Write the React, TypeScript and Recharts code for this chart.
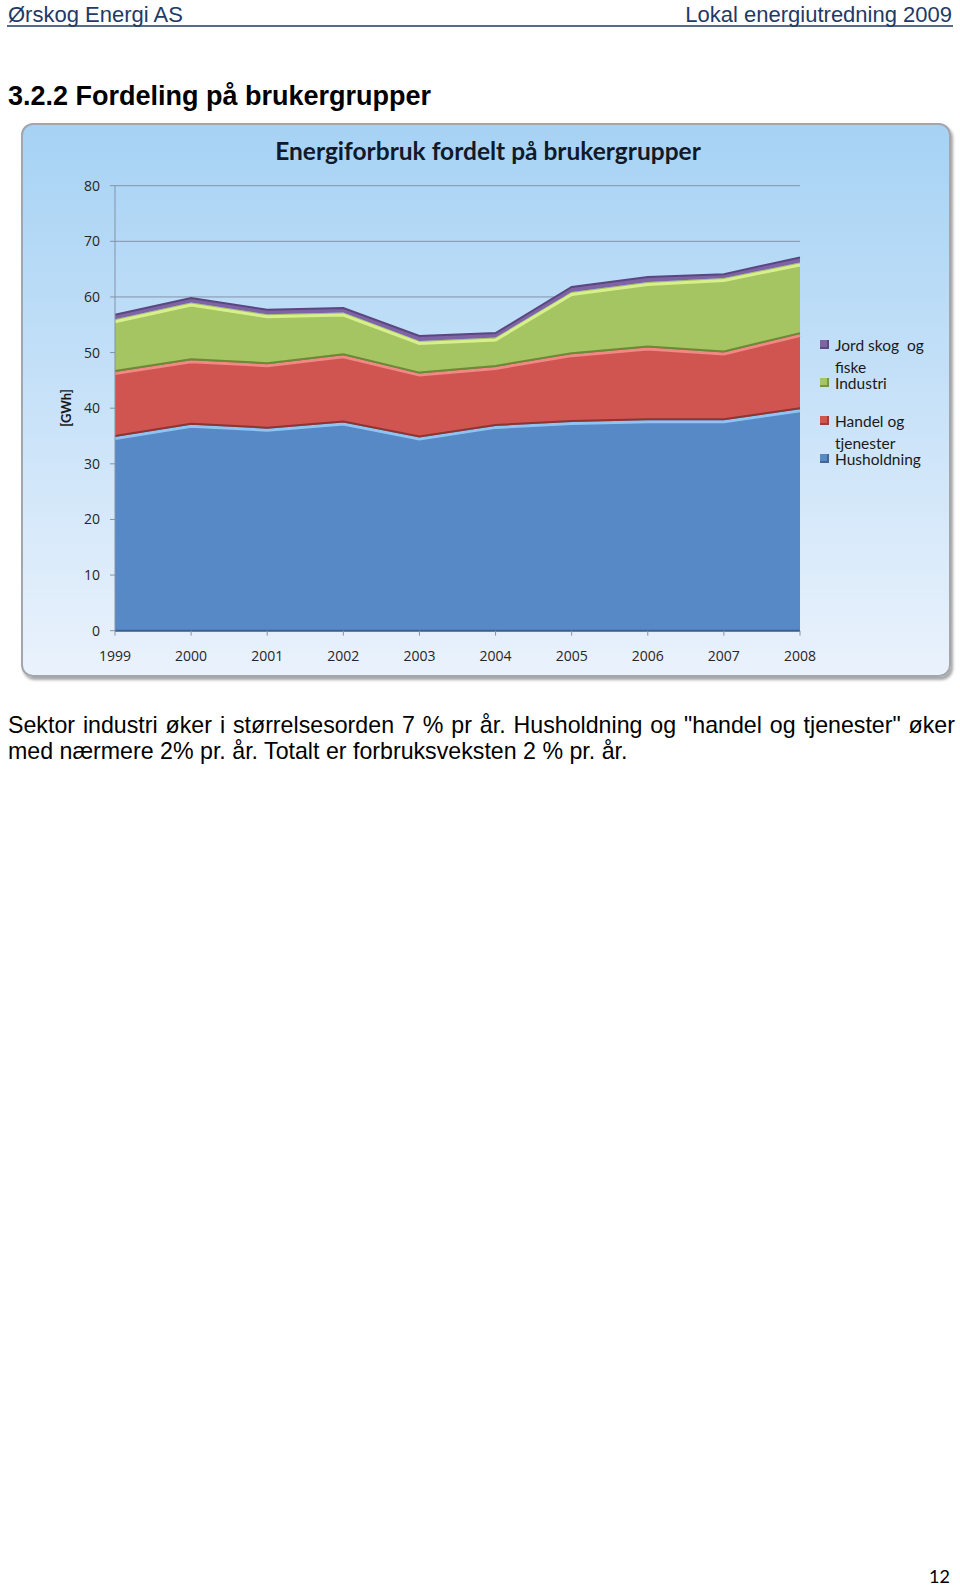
import React from "react";
import { ComposedChart, Area, Line, XAxis, YAxis, CartesianGrid, Legend } from "recharts";

const years = ["1999", "2000", "2001", "2002", "2003", "2004", "2005", "2006", "2007", "2008"];
const husholdning = [35.0, 37.2, 36.5, 37.6, 34.9, 37.0, 37.7, 38.0, 38.0, 40.0];
const handelOgTjenester = [11.7, 11.6, 11.6, 12.1, 11.5, 10.6, 12.2, 13.1, 12.2, 13.5];
const industri = [9.3, 10.2, 8.8, 7.5, 5.7, 5.1, 11.0, 11.6, 13.2, 12.7];
const jordSkogFiske = [0.8, 0.8, 0.8, 0.8, 0.9, 0.8, 0.9, 0.9, 0.7, 0.9];
const yTicks = [0, 10, 20, 30, 40, 50, 60, 70, 80];

// stacked layers, bottom first
const layers = [
  { key: "husholdning", name: "Husholdning", fill: "#5889c7", edge: "#8c3532", light: "#8fc4f2" },
  { key: "handel", name: "Handel og tjenester", fill: "#d05450", edge: "#6b8a36", light: "#f08884" },
  { key: "industri", name: "Industri", fill: "#a5c462", edge: "none", light: "#d8f08c" },
  { key: "jord", name: "Jord skog  og fiske", fill: "#7e64a4", edge: "#5a4680", light: "none" },
];

const table = years.map((year, i) => {
  const t1 = husholdning[i];
  const t2 = t1 + handelOgTjenester[i];
  const t3 = t2 + industri[i];
  const t4 = t3 + jordSkogFiske[i];
  return {
    year,
    husholdning: husholdning[i],
    handel: handelOgTjenester[i],
    industri: industri[i],
    jord: jordSkogFiske[i],
    t1, t2, t3, t4,
  };
});

const tickFont = { fontFamily: "'Open Sans', sans-serif", fontSize: 14, fill: "#262626" };

function LegendBox() {
  const items = [...layers].reverse();
  return (
    <div style={{ fontFamily: "Lato, sans-serif", fontSize: 15.5, color: "#1a1a1a" }}>
      {items.map((it) => (
        <div key={it.key} style={{ position: "relative", height: 38, lineHeight: "22px" }}>
          <span
            style={{
              position: "absolute", left: 0, top: 6, width: 9, height: 9,
              background: it.fill, boxShadow: "inset -2px -2px 0 rgba(0,0,0,0.25)",
            }}
          />
          <div style={{ position: "absolute", left: 15, top: 0, width: 95, whiteSpace: "pre-wrap" }}>
            {it.name}
          </div>
        </div>
      ))}
    </div>
  );
}

export default function App() {
  return (
    <div style={{ position: "absolute", left: 0, top: 0, width: 960, height: 1588, background: "#fff", overflow: "hidden" }}>
      <style>{`.hl-line { transform: translateY(2.5px); }`}</style>
      <svg width={960} height={120} style={{ position: "absolute", left: 0, top: 0 }}>
        <text x={8} y={21.5} fontFamily="'Liberation Sans', Arial, sans-serif" fontSize={22} fill="#1f3a66">
          Ørskog Energi AS
        </text>
        <text x={952} y={21.5} textAnchor="end" fontFamily="'Liberation Sans', Arial, sans-serif" fontSize={22} fill="#1f3a66">
          Lokal energiutredning 2009
        </text>
        <line x1={7} x2={953} y1={26} y2={26} stroke="#1f3a66" strokeWidth={1.5} />
        <text x={8} y={105} fontFamily="'Liberation Sans', Arial, sans-serif" fontWeight="bold" fontSize={27} fill="#000">
          3.2.2 Fordeling på brukergrupper
        </text>
      </svg>

      <div
        style={{
          position: "absolute", left: 21, top: 123, width: 930, height: 554, boxSizing: "border-box",
          borderRadius: 12, border: "2px solid #a3a6aa",
          background: "linear-gradient(180deg, #a6d2f4 0%, #c4e0f8 45%, #eaf2fc 100%)",
          boxShadow: "2px 3px 3px rgba(0,0,0,0.35)",
        }}
      />
      <div style={{ position: "absolute", left: 21, top: 123, width: 930, height: 554 }}>
        <ComposedChart width={930} height={554} data={table} margin={{ top: 62.7, right: 151, bottom: 16.3, left: 54 }}>
          <CartesianGrid vertical={false} stroke="#8493a8" strokeWidth={1} />
          <XAxis
            dataKey="year"
            scale="point"
            padding={{ left: 0, right: 0 }}
            height={30}
            tickSize={5}
            tickMargin={15}
            tick={tickFont}
            axisLine={{ stroke: "#3d5f8e", strokeWidth: 2 }}
            tickLine={{ stroke: "#8493a8" }}
          />
          <YAxis
            domain={[0, 80]}
            ticks={yTicks}
            width={40}
            tickSize={5}
            tickMargin={10}
            tick={tickFont}
            axisLine={{ stroke: "#8493a8" }}
            tickLine={{ stroke: "#8493a8" }}
          />
          {layers.map((l) => (
            <Area
              key={l.key}
              type="linear"
              dataKey={l.key}
              name={l.name}
              stackId="s"
              fill={l.fill}
              fillOpacity={1}
              stroke="none"
              isAnimationActive={false}
            />
          ))}
          {layers.map((l, i) =>
            l.light === "none" ? null : (
              <Line
                key={"hl" + l.key}
                className="hl-line"
                type="linear"
                dataKey={"t" + (i + 1)}
                stroke={l.light}
                strokeWidth={3}
                dot={false}
                activeDot={false}
                legendType="none"
                isAnimationActive={false}
              />
            )
          )}
          {layers.map((l, i) =>
            l.edge === "none" ? null : (
              <Line
                key={"edge" + l.key}
                type="linear"
                dataKey={"t" + (i + 1)}
                stroke={l.edge}
                strokeWidth={2}
                dot={false}
                activeDot={false}
                legendType="none"
                isAnimationActive={false}
              />
            )
          )}
          <Legend
            layout="vertical"
            align="center"
            verticalAlign="middle"
            content={() => <LegendBox />}
            wrapperStyle={{ position: "absolute", left: 799, top: 211, width: 130, height: 152 }}
          />
        </ComposedChart>
      </div>
      <svg width={960} height={700} style={{ position: "absolute", left: 0, top: 0, pointerEvents: "none" }}>
        <text x={488} y={160} textAnchor="middle" fontFamily="Lato, sans-serif" fontWeight="bold" fontSize={24.5} fill="#111a2a">
          Energiforbruk fordelt på brukergrupper
        </text>
        <text
          x={0}
          y={0}
          transform="translate(71,408) rotate(-90)"
          textAnchor="middle"
          fontFamily="Lato, sans-serif"
          fontWeight="bold"
          fontSize={13}
          fill="#1a1a1a"
        >
          [GWh]
        </text>
      </svg>

      <div
        style={{
          position: "absolute", left: 8, top: 713, width: 947,
          fontFamily: "'Liberation Sans', Arial, sans-serif", fontSize: 23.2, lineHeight: "25.5px", color: "#000",
        }}
      >
        <div style={{ textAlign: "justify", textAlignLast: "justify" }}>
          Sektor industri øker i størrelsesorden 7 % pr år. Husholdning og "handel og tjenester" øker
        </div>
        <div>med nærmere 2% pr. år. Totalt er forbruksveksten 2 % pr. år.</div>
      </div>

      <div
        style={{
          position: "absolute", right: 10, top: 1565, fontFamily: "Lato, sans-serif", fontSize: 18, color: "#000",
        }}
      >
        12
      </div>
    </div>
  );
}
